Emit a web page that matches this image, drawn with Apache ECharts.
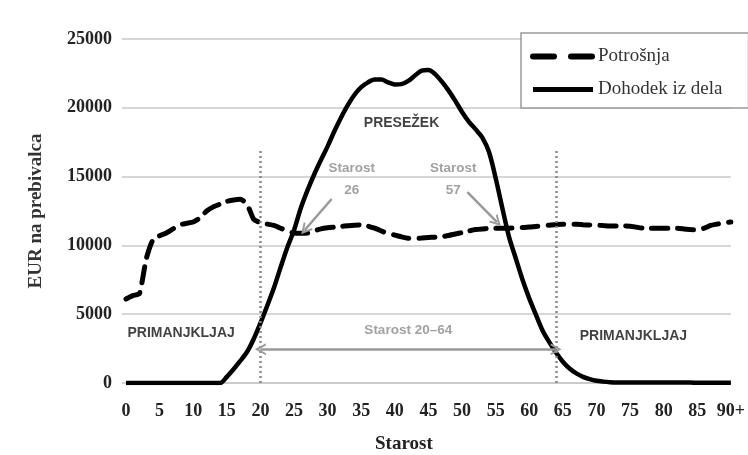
<!DOCTYPE html>
<html>
<head>
<meta charset="utf-8">
<script src="https://cdn.jsdelivr.net/npm/echarts@6/dist/echarts.min.js"></script>
<style>html,body{margin:0;padding:0;background:#fff}#c{width:748px;height:455px}</style>
</head>
<body>
<div id="c"></div>
<script>
// ---- data ----
const ages = [0,1,2,3,4,5,6,7,8,9,10,11,12,13,14,15,16,17,18,19,20,21,22,23,24,25,26,27,28,29,30,31,32,33,34,35,36,37,38,39,40,41,42,43,44,45,46,47,48,49,50,51,52,53,54,55,56,57,58,59,60,61,62,63,64,65,66,67,68,69,70,71,72,73,74,75,76,77,78,79,80,81,82,83,84,85,86,87,88,89,90];
const potrosnja = [6100,6350,6500,9000,10400,10700,10900,11200,11500,11600,11700,12000,12500,12800,13000,13200,13300,13350,13000,11900,11650,11550,11450,11250,11050,10900,10880,10900,11050,11200,11280,11330,11380,11430,11470,11480,11400,11250,11050,10850,10750,10620,10520,10500,10530,10570,10600,10640,10720,10830,10930,11050,11150,11200,11230,11240,11240,11250,11270,11300,11330,11380,11420,11470,11520,11530,11530,11530,11500,11480,11470,11440,11410,11410,11410,11400,11320,11250,11240,11240,11240,11240,11240,11200,11150,11120,11250,11450,11550,11650,11700];
const dohodek = [0,0,0,0,0,0,0,0,0,0,0,0,0,0,0,450,1000,1600,2250,3200,4350,5600,6900,8400,9850,11100,12700,14000,15150,16200,17200,18300,19300,20200,20950,21500,21850,22050,22050,21850,21700,21720,21950,22350,22700,22750,22450,21900,21250,20500,19700,19000,18450,17850,16800,14900,12700,10600,9050,7500,6150,4950,3800,2950,2200,1550,1050,700,450,280,160,100,60,40,40,40,40,40,40,40,40,40,40,40,40,10,10,10,10,10,10];
const yTicks = [0,5000,10000,15000,20000,25000];
const seriesNames = ['Potrošnja','Dohodek iz dela'];
const boundaryAges = [20, 64];
const boundaryTop = 17000;
// annotation texts anchored in data coordinates [age, EUR]
const notes = [
  {text:'PRESEŽEK', at:[41,18900], kind:'dark'},
  {text:'PRIMANJKLJAJ', at:[8.2,3600], kind:'dark'},
  {text:'PRIMANJKLJAJ', at:[75.5,3400], kind:'dark'},
  {text:'Starost\n26', at:[33.6,14800], kind:'grey'},
  {text:'Starost\n57', at:[48.7,14800], kind:'grey'},
  {text:'Starost 20–64', at:[42,3800], kind:'grey'}
];
const arrows = [
  {from:[30.6,13370], to:[26.6,11120], both:false},
  {from:[50.8,13880], to:[55.2,11700], both:false},
  {from:[20,2450], to:[64,2450], both:true}
];

// ---- chart ----
const chart = echarts.init(document.getElementById('c'));
const serif = 'Liberation Serif';
const sans = 'Liberation Sans';
const chev = 'path://M0,10 L5,0 L10,10 L8.2,10 L5,3.6 L1.8,10 Z';

const consData = ages.map((a,i)=>[a, potrosnja[i]]);
const incData = ages.map((a,i)=>[a, dohodek[i]]);

chart.setOption({
  animation:false,
  backgroundColor:'#fff',
  color:['#000','#000'],
  grid:{left:126, right:13, top:39, bottom:72},
  title:{text:'Starost', left:370, top:430, textStyle:{fontFamily:serif, fontWeight:'bold', fontSize:19, color:'#222'}},
  legend:{
    orient:'vertical', left:521, top:33,
    padding:[14,26,9,9], itemGap:14, itemWidth:60, itemHeight:14,
    borderColor:'#999', borderWidth:1.5, backgroundColor:'#fff',
    textStyle:{fontFamily:serif, fontSize:19, color:'#333'},
    itemStyle:{opacity:0},
    data:[
      {name:seriesNames[0], itemStyle:{opacity:0}, lineStyle:{type:[21,17], width:6, color:'#000', cap:'round'}},
      {name:seriesNames[1], itemStyle:{opacity:0}, lineStyle:{type:'solid', width:5, color:'#000'}}
    ]
  },
  xAxis:{
    type:'value', min:0, max:90, interval:5,
    axisLine:{show:true, lineStyle:{color:'#c8c8c8', width:1.5}},
    axisTick:{show:false}, splitLine:{show:false},
    axisLabel:{margin:19, fontFamily:serif, fontWeight:'bold', fontSize:18, color:'#222',
      formatter:v=> v===90 ? '90+' : String(v)}
  },
  yAxis:{
    type:'value', min:yTicks[0], max:yTicks[yTicks.length-1], interval:5000,
    name:'EUR na prebivalca', nameLocation:'middle', nameGap:80,
    nameTextStyle:{fontFamily:serif, fontWeight:'bold', fontSize:19, color:'#333'},
    axisLine:{show:false},
    axisTick:{show:true, length:4, lineStyle:{color:'#c8c8c8', width:1.5}},
    splitLine:{show:true, lineStyle:{color:'#c8c8c8', width:1.5}},
    axisLabel:{margin:14, fontFamily:serif, fontWeight:'bold', fontSize:18, color:'#222',
      formatter:v=>String(v)}
  },
  series:[
    {
      name:seriesNames[0], type:'line', data:consData, symbol:'none', smooth:0.2, z:3,
      itemStyle:{color:'#000'},
      lineStyle:{color:'#000', width:5, type:[16,10], cap:'round'}
    },
    {
      name:seriesNames[1], type:'line', data:incData, symbol:'none', smooth:0.3, z:4,
      itemStyle:{color:'#000'},
      lineStyle:{color:'#000', width:4.5},
      markLine:{
        silent:true, symbol:['none','none'], animation:false,
        label:{show:false},
        lineStyle:{color:'#888', width:2.5, type:[2,3]},
        data: boundaryAges.map(a=>[{coord:[a,0]},{coord:[a,boundaryTop]}])
      }
    },
    {
      name:'notes', type:'scatter', symbolSize:1, itemStyle:{color:'rgba(0,0,0,0)'}, z:5, silent:true,
      data: notes.map(n=>({
        value:n.at,
        label:{show:true, position:'inside', formatter:n.text,
          fontFamily:sans, fontWeight:'bold',
          fontSize: n.kind==='dark'?14:13.5,
          lineHeight: 22,
          color: n.kind==='dark'?'#111':'#8a8a8a'}
      })),
      markLine:{
        silent:true, animation:false, label:{show:false},
        lineStyle:{color:'#999', width:2.5, type:'solid'},
        data: arrows.map(a=>[
          {coord:a.from, symbol: a.both?chev:'none', symbolSize:[12,11]},
          {coord:a.to, symbol: chev, symbolSize:[12,11]}
        ])
      }
    }
  ]
});
</script>
</body>
</html>
